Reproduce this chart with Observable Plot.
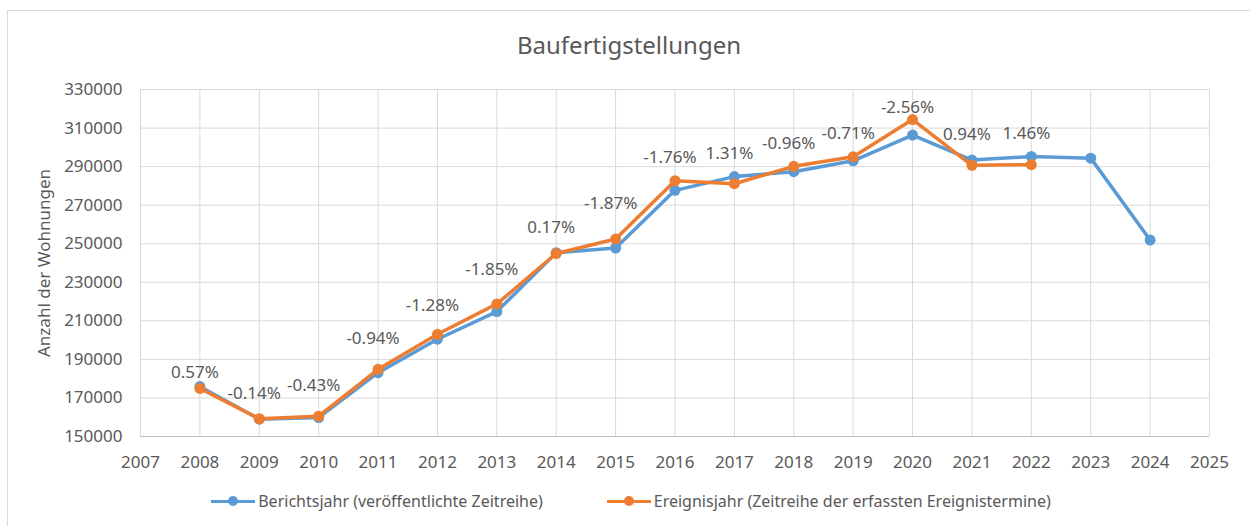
<!DOCTYPE html>
<html>
<head>
<meta charset="utf-8">
<script src="https://cdn.jsdelivr.net/npm/d3@7"></script>
<script src="https://cdn.jsdelivr.net/npm/@observablehq/plot@0.6"></script>
<style>
  html, body { margin: 0; padding: 0; background: #fff; overflow: hidden; }
  #wrap { position: relative; width: 1250px; height: 526px; overflow: hidden; font-family: "Noto Sans", sans-serif; color: #595959; }
  #frame { position: absolute; left: 7px; top: 10px; width: 1300px; height: 600px; border: 1px solid #d9d9d9; box-sizing: border-box; }
  #title { position: absolute; left: 0; top: 30px; width: 1258px; text-align: center; font-size: 24px; line-height: 30px; color: #595959; }
  #chart { position: absolute; left: 0; top: 70px; }
  #legend { position: absolute; left: 0; top: 490px; width: 1262px; display: flex; justify-content: center; align-items: center; gap: 64px; font-size: 16px; line-height: 22px; }
  .item { display: flex; align-items: center; gap: 3px; }
  .sw { position: relative; width: 44px; height: 12px; }
  .sw .ln { position: absolute; left: 0; top: 4.5px; width: 44px; height: 3px; }
  .sw .dt { position: absolute; left: 17px; top: 1px; width: 10px; height: 10px; border-radius: 50%; }
</style>
</head>
<body>
<div id="wrap">
  <div id="frame"></div>
  <div id="title">Baufertigstellungen</div>
  <div id="chart"></div>
  <div id="legend"></div>
</div>
<script>
// Years
const yearsBlue = [2008,2009,2010,2011,2012,2013,2014,2015,2016,2017,2018,2019,2020,2021,2022,2023,2024];
const yearsOrange = [2008,2009,2010,2011,2012,2013,2014,2015,2016,2017,2018,2019,2020,2021,2022];
// Berichtsjahr (veröffentlichte Zeitreihe)
const berichtsjahr = [175927,158987,159832,183110,200466,214817,245325,247722,277691,284816,287352,293002,306376,293393,295275,294399,251900];
// Ereignisjahr (Zeitreihe der erfassten Ereignistermine)
const ereignisjahr = [174930,159210,160520,184840,203030,218790,244910,252440,282670,281130,290140,295090,314430,290660,291020];
// Difference labels and their anchor heights
const diffLabels = ["0.57%","-0.14%","-0.43%","-0.94%","-1.28%","-1.85%","0.17%","-1.87%","-1.76%","1.31%","-0.96%","-0.71%","-2.56%","0.94%","1.46%"];
const labelAt = [183200,172300,176450,200800,217950,236600,258400,270850,294900,296950,302000,307150,320650,306650,307150];
// Axis ticks
const xTicks = d3.range(2007, 2026);
const yTicks = d3.range(150000, 330001, 20000);

const seriesNames = ["Berichtsjahr (veröffentlichte Zeitreihe)", "Ereignisjahr (Zeitreihe der erfassten Ereignistermine)"];
const colors = ["#5B9BD5", "#ED7D31"];

const blue = yearsBlue.map((y, i) => ({year: y, value: berichtsjahr[i]}));
const orange = yearsOrange.map((y, i) => ({year: y, value: ereignisjahr[i]}));
const labels = yearsOrange.map((y, i) => ({year: y, value: labelAt[i], text: diffLabels[i]}));

const chart = Plot.plot({
  width: 1250,
  height: 410,
  marginTop: 19,
  marginBottom: 44,
  marginLeft: 140,
  marginRight: 41,
  style: {fontFamily: "Noto Sans, sans-serif", fontSize: "17px", color: "#595959", background: "transparent", overflow: "visible"},
  x: {domain: [2007, 2025]},
  y: {domain: [150000, 330000]},
  marks: [
    Plot.gridX(xTicks, {stroke: "#d9d9d9", strokeOpacity: 1, strokeWidth: 1}),
    Plot.gridY(yTicks, {stroke: "#d9d9d9", strokeOpacity: 1, strokeWidth: 1}),
    Plot.ruleY([150000], {stroke: "#bfbfbf", strokeWidth: 1}),
    Plot.axisX(xTicks, {tickSize: 0, tickPadding: 19, tickFormat: d => String(d), label: null, fill: "#595959", fontSize: 17}),
    Plot.axisY(yTicks, {tickSize: 0, tickPadding: 18, tickFormat: d => String(d), label: "Anzahl der Wohnungen", labelAnchor: "center", labelArrow: "none", labelOffset: 103, fill: "#595959", fontSize: 17}),
    Plot.line(blue, {x: "year", y: "value", stroke: colors[0], strokeWidth: 3.5}),
    Plot.dot(blue, {x: "year", y: "value", r: 5.5, fill: colors[0], stroke: "none"}),
    Plot.line(orange, {x: "year", y: "value", stroke: colors[1], strokeWidth: 3.5}),
    Plot.dot(orange, {x: "year", y: "value", r: 5.5, fill: colors[1], stroke: "none"}),
    Plot.text(labels, {x: "year", y: "value", text: "text", dx: -5, fill: "#595959", fontSize: 17})
  ]
});
document.getElementById("chart").appendChild(chart);

const legend = document.getElementById("legend");
seriesNames.forEach((name, i) => {
  const item = document.createElement("div");
  item.className = "item";
  item.innerHTML = `<div class="sw"><div class="ln" style="background:${colors[i]}"></div><div class="dt" style="background:${colors[i]}"></div></div><span>${name}</span>`;
  legend.appendChild(item);
});
</script>
</body>
</html>
